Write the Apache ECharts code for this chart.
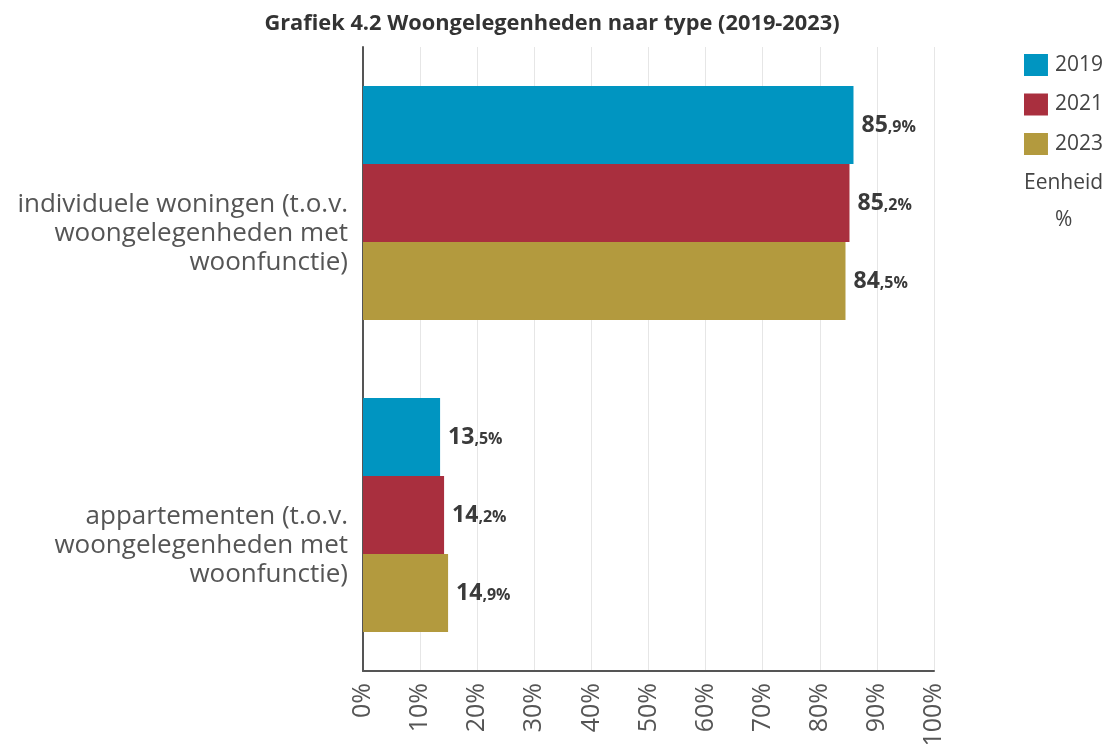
<!DOCTYPE html>
<html>
<head>
<meta charset="utf-8">
<script src="https://cdn.jsdelivr.net/npm/echarts@6/dist/echarts.min.js"></script>
<style>html,body{margin:0;padding:0;background:#fff}#c{width:1112px;height:744px}</style>
</head>
<body>
<div id="c"></div>
<script>
var categories = [
  "individuele woningen (t.o.v.\nwoongelegenheden met\nwoonfunctie)",
  "appartementen (t.o.v.\nwoongelegenheden met\nwoonfunctie)"
];
var seriesNames = ["2019", "2021", "2023"];
var values2019 = [85.9, 13.5];
var values2021 = [85.2, 14.2];
var values2023 = [84.5, 14.9];
var xTicks = [0, 10, 20, 30, 40, 50, 60, 70, 80, 90, 100];
var colors = ["#0095c1", "#a92f3e", "#b39a3e"];
var FONT = "'Open Sans', sans-serif";

function labelFmt(p) {
  var s = p.value.toFixed(1).split(".");
  return "{a|" + s[0] + "}{b|," + s[1] + "%}";
}
function mkSeries(name, data, color) {
  return {
    name: name, type: "bar", data: data,
    itemStyle: { color: color },
    barGap: "0%", barCategoryGap: "25%",
    label: {
      show: true, position: "right", distance: 8,
      formatter: labelFmt,
      rich: {
        a: { fontFamily: FONT, fontSize: 23, fontWeight: "bold", color: "#3a3a3a" },
        b: { fontFamily: FONT, fontSize: 16, fontWeight: "bold", color: "#3a3a3a", padding: [5, 0, 0, 0] }
      }
    }
  };
}
var chart = echarts.init(document.getElementById("c"));
chart.setOption({
  animation: false,
  textStyle: { fontFamily: FONT },
  title: {
    text: "Grafiek 4.2 Woongelegenheden naar type (2019-2023)",
    left: 547, top: 8, textAlign: "center",
    textStyle: { fontFamily: FONT, fontSize: 21.8, fontWeight: "bold", color: "#333" }
  },
  legend: {
    orient: "vertical", right: 4, top: 49,
    itemWidth: 24, itemHeight: 22, itemGap: 17.5,
    icon: "rect",
    data: seriesNames,
    textStyle: { fontFamily: FONT, fontSize: 21, color: "#444", padding: [0, 0, 0, 2] }
  },
  graphic: [
    { type: "text", left: 1024, top: 173, style: { text: "Eenheid", font: "21px " + FONT, fill: "#444" } },
    { type: "text", left: 1055, top: 210, style: { text: "%", font: "21px " + FONT, fill: "#444" } }
  ],
  grid: { left: 363, right: 178, top: 47, bottom: 73, containLabel: false, outerBoundsMode: "none" },
  xAxis: {
    type: "value", min: 0, max: 100, interval: 10,
    axisLine: { show: true, lineStyle: { color: "#555", width: 2 } },
    axisTick: { show: false },
    splitLine: { show: true, lineStyle: { color: "#e6e6e6", width: 1 } },
    axisLabel: {
      rotate: 90, margin: 12, fontSize: 25, color: "#555", fontFamily: FONT,
      formatter: function (v) { return xTicks.indexOf(v) >= 0 ? v + "%" : ""; }
    }
  },
  yAxis: {
    type: "category", data: categories, inverse: true,
    axisLine: { show: true, lineStyle: { color: "#555", width: 2 } },
    axisTick: { show: false },
    axisLabel: { fontSize: 26, lineHeight: 29, color: "#555", margin: 15, align: "right",
      verticalAlign: "top", padding: [-13, 0, 0, 0], fontFamily: FONT }
  },
  series: [
    mkSeries(seriesNames[0], values2019, colors[0]),
    mkSeries(seriesNames[1], values2021, colors[1]),
    mkSeries(seriesNames[2], values2023, colors[2])
  ]
});
</script>
</body>
</html>
